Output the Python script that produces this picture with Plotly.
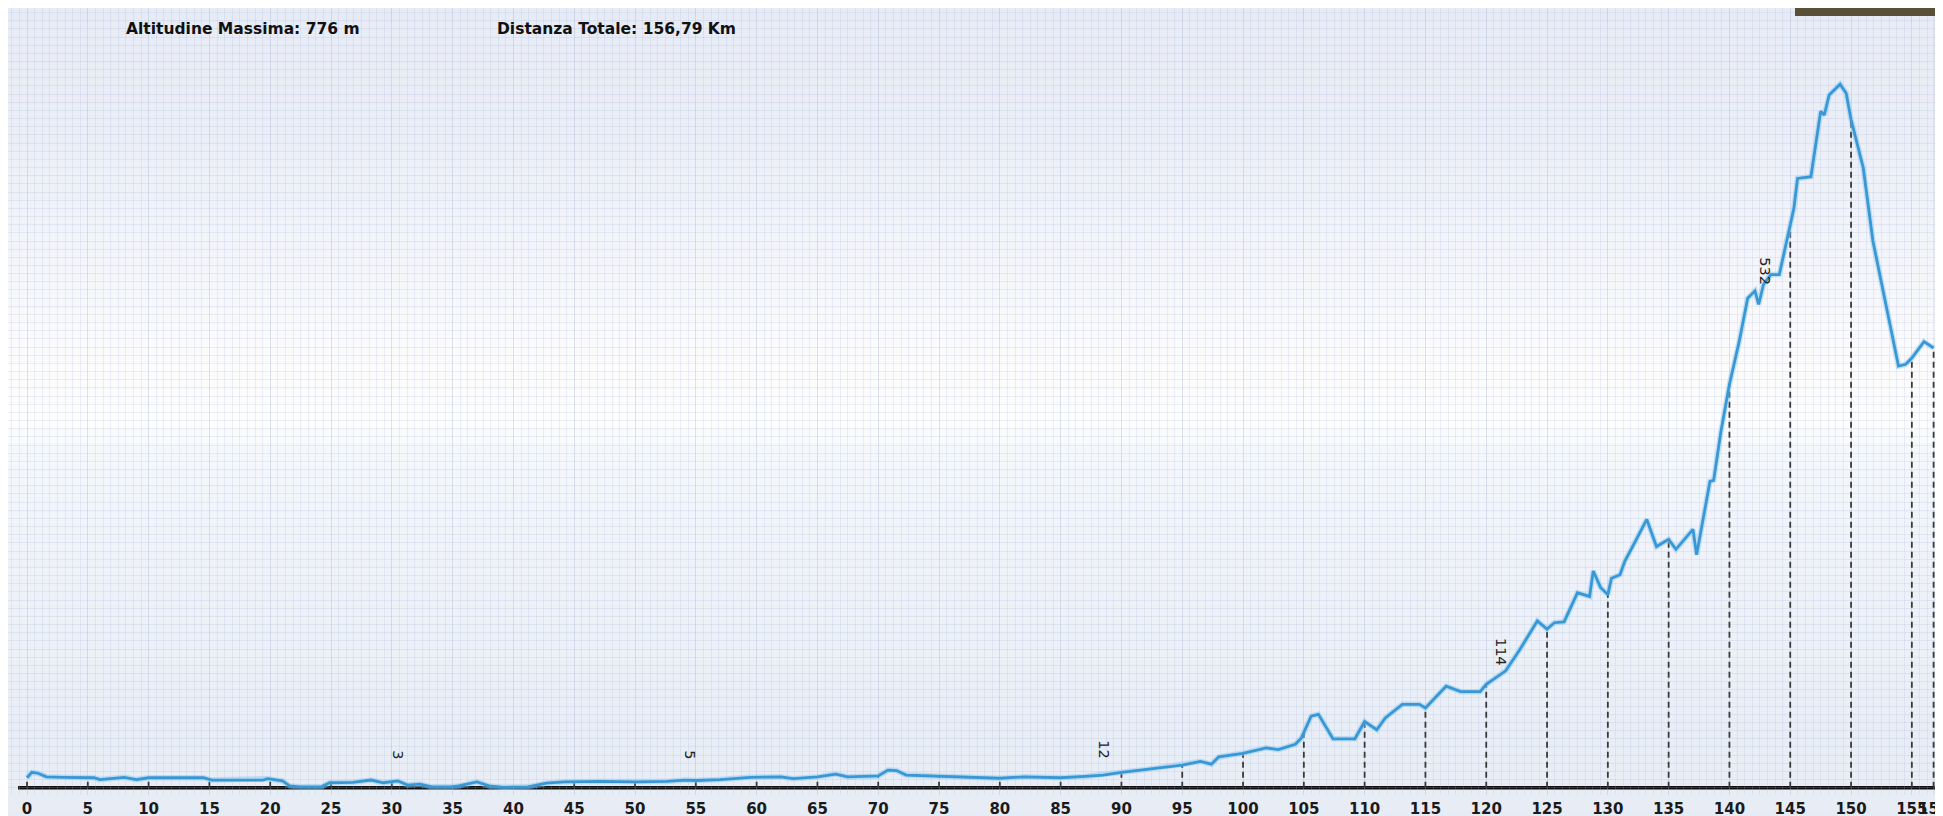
import numpy as np
import plotly.graph_objects as go

# ---------------- data ----------------
km = [0.0, 0.4, 0.9, 1.6, 3.0, 5.5, 6.0, 7.0, 8.0, 9.0, 10.0, 12.0, 14.5, 15.2, 17.0,
      19.4, 19.8, 21.0, 21.6, 22.5, 24.2, 24.9, 26.8, 28.3, 29.3, 30.5, 31.3, 32.3,
      33.3, 34.8, 35.5, 37.0, 38.0, 39.2, 41.2, 42.7, 44.2, 47.1, 50.1, 52.6, 54.1,
      55.0, 57.0, 59.5, 62.0, 63.0, 65.0, 66.5, 67.5, 70.0, 70.8, 71.5, 72.3, 75.0,
      80.0, 82.0, 85.0, 87.0, 88.5, 90.0, 92.0, 93.5, 95.0, 96.5, 97.4, 98.0, 100.0,
      101.9, 102.9, 104.3, 104.8, 105.6, 106.2, 107.4, 109.2, 110.0, 111.0, 111.7,
      113.1, 114.5, 115.0, 116.7, 117.9, 119.5, 120.0, 121.6, 122.7, 124.2, 125.0,
      125.6, 126.4, 127.5, 128.5, 128.8, 129.4, 130.0, 130.3, 131.0, 131.4, 132.0,
      133.2, 134.0, 135.0, 135.6, 137.0, 137.3, 138.4, 138.7, 139.3, 140.0, 140.8,
      141.5, 142.1, 142.4, 142.8, 143.4, 144.1, 145.3, 145.6, 146.7, 147.5, 147.8,
      148.2, 149.1, 149.6, 150.0, 151.0, 151.8, 153.9, 154.5, 155.0, 156.0, 156.79]
alt = [11, 17, 16, 12, 11.5, 11, 9, 10, 11.5, 9, 11, 11, 11, 8.5, 8.5,
       8.5, 10, 7.5, 2, 1, 1, 5.5, 6, 8.5, 5.5, 7.5, 3, 4,
       1, 1, 2, 6.5, 2, 0.5, 1, 5, 6.5, 7, 6.5, 7, 8.5,
       8, 9, 11.5, 12, 10, 12, 15, 12, 13, 19.5, 19, 14, 12.5,
       10.5, 12, 11, 12.5, 14, 17, 20, 23, 25, 29, 26, 34, 38,
       44, 42, 48, 55, 79, 81, 54, 54, 73, 64, 77,
       92, 92, 88, 112, 106, 106, 114, 129, 151, 184, 175,
       182, 183, 215, 211, 239, 221, 213, 231, 235, 250, 265,
       296, 266, 274, 263, 285, 257, 338, 339, 393, 445, 492,
       540, 548, 533, 555, 566, 566, 639, 672, 674, 746, 742,
       764, 776, 766, 737, 684, 603, 465, 467, 474, 492, 485]

tick_km = list(range(0, 156, 5)) + [156.79]
tick_text = [str(v) for v in range(0, 156, 5)] + ["157"]

label_km = [30.5, 54.5, 88.6, 121.2, 142.9]
label_alt = [36, 36, 42, 150, 570]
label_text = ["3", "5", "12", "114", "532"]

title_left = "Altitudine Massima: 776 m"
title_right = "Distanza Totale: 156,79 Km"

# ---------------- layout geometry ----------------
W, H = 1943, 816
MB = 29
PH = H - MB
XR = [-1.5625, 158.22]
YR = [-8, 860]

fig = go.Figure()

# dashed drop lines at each tick
dx, dy = [], []
for t in tick_km:
    h = float(np.interp(t, km, alt))
    dx += [t, t, None]
    dy += [0, h, None]
fig.add_trace(go.Scatter(x=dx, y=dy, mode="lines",
                         line=dict(color="#3a3a3a", width=1.8, dash="6px,4px"),
                         hoverinfo="skip", showlegend=False))

# profile (halo + line)
fig.add_trace(go.Scatter(x=km, y=alt, mode="lines",
                         line=dict(color="rgba(140,200,240,0.5)", width=5.5),
                         hoverinfo="skip", showlegend=False))
fig.add_trace(go.Scatter(x=km, y=alt, mode="lines",
                         line=dict(color="#3898d6", width=2.8),
                         showlegend=False))

# ---------------- background gradient bands ----------------
stops_y = [0, 120, 250, 330, 420, 445, 600, 816]
stops_c = [(231, 235, 245), (235, 238, 247), (243, 245, 250), (251, 251, 253),
           (253, 253, 254), (244, 247, 251), (237, 241, 248), (230, 236, 245)]
shapes = []
NB = 60
edges = np.linspace(0, H, NB + 1)
arr = np.array(stops_c, dtype=float)
for i in range(NB):
    yc = 0.5 * (edges[i] + edges[i + 1])
    c = [np.interp(yc, stops_y, arr[:, k]) for k in range(3)]
    shapes.append(dict(type="rect", xref="paper", yref="paper",
                       x0=0, x1=1, y0=(PH - edges[i + 1]) / PH, y1=(PH - edges[i]) / PH,
                       fillcolor="rgb(%d,%d,%d)" % tuple(int(round(v)) for v in c),
                       line=dict(width=0), layer="below"))

# axis base line
shapes.append(dict(type="line", xref="paper", yref="y", x0=10 / W, x1=1932 / W, y0=0, y1=0,
                   line=dict(color="#111111", width=3.5), layer="between"))
# top-right dark block
shapes.append(dict(type="rect", xref="paper", yref="paper", x0=1787 / W, x1=1932 / W,
                   y0=(PH - 8) / PH, y1=1.0, fillcolor="#5a5037", line=dict(width=0),
                   layer="above"))
# right white strip
shapes.append(dict(type="rect", xref="paper", yref="paper", x0=1932 / W, x1=1.0,
                   y0=-MB / PH - 0.01, y1=1.0, fillcolor="white", line=dict(width=0),
                   layer="above"))

annotations = [
    dict(text=title_left, xref="paper", yref="paper", x=116 / W, y=(PH - 21) / PH,
         xanchor="left", yanchor="middle", showarrow=False,
         font=dict(family="DejaVu Sans", size=15.5, color="#111", weight="bold")),
    dict(text=title_right, xref="paper", yref="paper", x=487 / W, y=(PH - 21) / PH,
         xanchor="left", yanchor="middle", showarrow=False,
         font=dict(family="DejaVu Sans", size=15.5, color="#111", weight="bold")),
]
for xk, ya, tx in zip(label_km, label_alt, label_text):
    annotations.append(dict(text=tx, x=xk, y=ya, xref="x", yref="y", showarrow=False,
                            textangle=90, xanchor="center", yanchor="middle",
                            font=dict(family="DejaVu Sans", size=14.5, color="#222")))

grid_c = "rgba(165,182,214,0.2)"
fig.update_layout(
    width=W, height=H,
    margin=dict(l=0, r=0, t=0, b=MB, pad=0),
    paper_bgcolor="#e6ebf4",
    plot_bgcolor="rgba(0,0,0,0)",
    shapes=shapes,
    annotations=annotations,
    showlegend=False,
    xaxis=dict(range=XR, tickmode="array", tickvals=tick_km, ticktext=tick_text,
               tickangle=0, showline=False, zeroline=False, ticks="",
               showgrid=True, gridcolor=grid_c, gridwidth=1,
               minor=dict(dtick=0.625, tick0=0, showgrid=True, gridcolor=grid_c, gridwidth=1),
               tickfont=dict(family="DejaVu Sans", size=15, color="#1a1a1a", weight="bold"),
               ticklabelstandoff=3, fixedrange=True),
    yaxis=dict(range=YR, showticklabels=False, ticks="", zeroline=False, showline=False,
               showgrid=True, gridcolor=grid_c, gridwidth=1, dtick=9, tick0=0,
               fixedrange=True),
)

fig.write_html("out.html")
